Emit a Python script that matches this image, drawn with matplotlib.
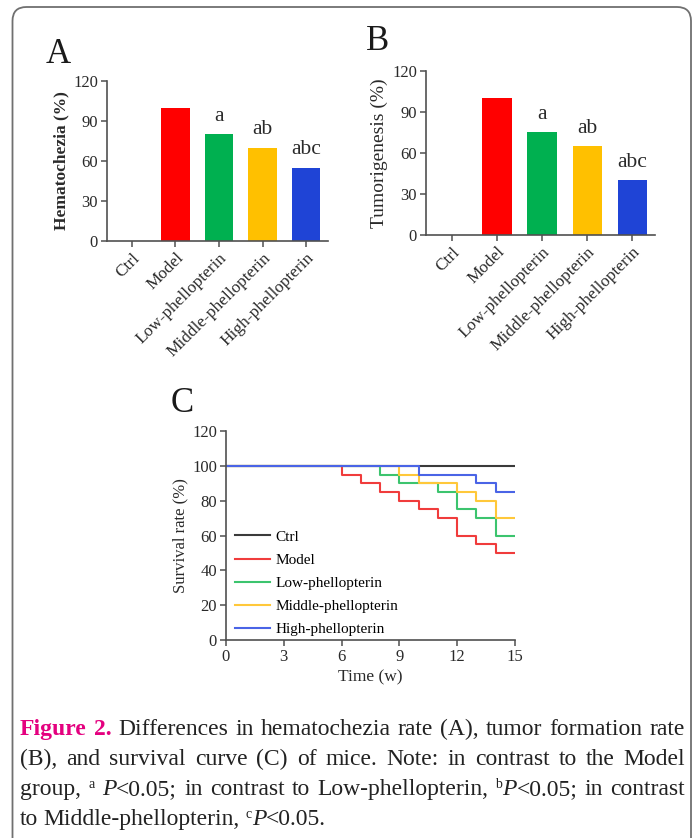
import matplotlib
matplotlib.use('Agg')
import matplotlib.pyplot as plt
from matplotlib.patches import FancyBboxPatch
import numpy as np

plt.rcParams['font.family'] = ['Liberation Serif', 'DejaVu Serif']

W, H = 697, 838

# 数据
groups = ['Ctrl', 'Model', 'Low-phellopterin', 'Middle-phellopterin', 'High-phellopterin']
hema = [0, 100, 80, 70, 55]
tumor = [0, 100, 75, 65, 40]
sig_marks = ['', '', 'a', 'ab', 'abc']
bar_colors = ['#ffffff', '#ff0000', '#00b050', '#ffc000', '#1f44d6']

# 生存曲线 (周, %)
ctrl_t = [0, 15]
ctrl_s = [100, 100]
model_t = [0, 6, 7, 8, 9, 10, 11, 12, 13, 14, 15]
model_s = [100, 95, 90, 85, 80, 75, 70, 60, 55, 50, 50]
low_t = [0, 8, 9, 11, 12, 13, 14, 15]
low_s = [100, 95, 90, 85, 75, 70, 60, 60]
mid_t = [0, 9, 10, 12, 13, 14, 15]
mid_s = [100, 95, 90, 85, 80, 70, 70]
high_t = [0, 10, 13, 14, 15]
high_s = [100, 95, 90, 85, 85]
line_colors = ['#3a3a3a', '#f03c3c', '#3cc46e', '#ffc83a', '#4a64e6']


def px(x):
    return x / W


def py(y):
    return 1 - y / H


def box(l, t, r, b):
    return [px(l), py(b), px(r) - px(l), py(t) - py(b)]


fig = plt.figure(figsize=(W / 100, H / 100), dpi=100)

axc = '#505050'
txc = '#2a2a2a'


def style_axes(ax, lsize):
    for s in ['top', 'right']:
        ax.spines[s].set_visible(False)
    for s in ['left', 'bottom']:
        ax.spines[s].set_color(axc)
        ax.spines[s].set_linewidth(1.2)
    ax.tick_params(colors=axc, width=1.1, length=4, labelcolor=txc, labelsize=lsize, pad=2.5)


def bar_panel(ax, vals, ylabel, bold, ysize):
    x = np.arange(len(groups))
    ax.bar(x, vals, width=0.65, color=bar_colors)
    ax.set_ylim(0, 120)
    ax.set_yticks([0, 30, 60, 90, 120])
    ax.set_xlim(-0.57, 4.5)
    ax.set_xticks(x)
    style_axes(ax, 12)
    ax.set_xticklabels(groups, rotation=45, ha='right', rotation_mode='anchor', fontsize=12.4)
    ax.set_ylabel(ylabel, fontsize=ysize, fontweight='bold' if bold else 'normal', color=txc, labelpad=3)
    for xi, v, m in zip(x, vals, sig_marks):
        if m:
            ax.annotate(m, (xi, v), xytext=(0, 6), textcoords='offset points',
                        ha='center', va='bottom', fontsize=15.5, color=txc)


# A
axA = fig.add_axes(box(107, 81, 328, 241))
bar_panel(axA, hema, 'Hematochezia (%)', True, 12.5)
fig.text(px(46), py(63), 'A', fontsize=25, color='#1a1a1a', va='baseline')

# B
axB = fig.add_axes(box(426, 71, 655, 235))
bar_panel(axB, tumor, 'Tumorigenesis (%)', False, 14)
fig.text(px(366), py(50), 'B', fontsize=25, color='#1a1a1a', va='baseline')

# C
axC = fig.add_axes(box(226, 431, 515, 640))
series = [(ctrl_t, ctrl_s, 'Ctrl'), (model_t, model_s, 'Model'), (low_t, low_s, 'Low-phellopterin'),
          (mid_t, mid_s, 'Middle-phellopterin'), (high_t, high_s, 'High-phellopterin')]
for (t, s, lab), c in zip(series, line_colors):
    axC.step(t, s, where='post', color=c, lw=1.5, label=lab)
axC.set_xlim(0, 15)
axC.set_ylim(0, 120)
axC.set_xticks([0, 3, 6, 9, 12, 15])
axC.set_yticks([0, 20, 40, 60, 80, 100, 120])
style_axes(axC, 12)
axC.set_xlabel('Time (w)', fontsize=12.5, color=txc, labelpad=3)
axC.set_ylabel('Survival rate (%)', fontsize=12, color=txc, labelpad=3)
axC.legend(loc='upper left', bbox_to_anchor=(px(235), py(530)), bbox_transform=fig.transFigure,
           frameon=False, fontsize=11, handlelength=2.3, handletextpad=0.35, labelspacing=0.62,
           borderpad=0, borderaxespad=0)
fig.text(px(171), py(412), 'C', fontsize=25, color='#1a1a1a', va='baseline')

# 外框
frame = FancyBboxPatch((px(12.5), py(870)), px(691) - px(12.5), py(7) - py(870),
                       boxstyle='round,pad=0,rounding_size=0.02', transform=fig.transFigure,
                       fill=False, edgecolor='#707070', lw=1.3, mutation_aspect=W / H)
fig.patches.append(frame)

# 图注, 两端对齐
cap_size = 17
magenta = '#e4007f'
tc = '#222222'
B_ = dict(fontweight='bold', color=magenta)
N_ = dict(color=tc)
I_ = dict(color=tc, style='italic')
S_ = dict(color=tc, size=10, dy=-7)

cap_lines = [
    [[('Figure', B_)], [('2.', B_)], [('Differences', N_)], [('in', N_)], [('hematochezia', N_)], [('rate', N_)],
     [('(A),', N_)], [('tumor', N_)], [('formation', N_)], [('rate', N_)]],
    [[('(B),', N_)], [('and', N_)], [('survival', N_)], [('curve', N_)], [('(C)', N_)], [('of', N_)], [('mice.', N_)],
     [('Note:', N_)], [('in', N_)], [('contrast', N_)], [('to', N_)], [('the', N_)], [('Model', N_)]],
    [[('group,', N_)], [('a', S_)], [('P', I_), ('<0.05;', N_)], [('in', N_)], [('contrast', N_)], [('to', N_)],
     [('Low-phellopterin,', N_)], [('b', S_), ('P', I_), ('<0.05;', N_)], [('in', N_)], [('contrast', N_)]],
    [[('to', N_)], [('Middle-phellopterin,', N_)], [('c', S_), ('P', I_), ('<0.05.', N_)]],
]
baselines = [735, 765, 795, 825]
x_left, x_right = 20, 685

fig.canvas.draw()
rend = fig.canvas.get_renderer()


def make(seg, x, y):
    txt, st = seg
    st = dict(st)
    dy = st.pop('dy', 0)
    size = st.pop('size', cap_size)
    return fig.text(px(x), py(y + dy), txt, fontsize=size, va='baseline', ha='left', **st)


for li, (words, yb) in enumerate(zip(cap_lines, baselines)):
    objs = []
    widths = []
    for w in words:
        segs = []
        ww = 0
        for seg in w:
            t = make(seg, 0, yb)
            sw = t.get_window_extent(rend).width
            segs.append((t, sw))
            ww += sw
        objs.append(segs)
        widths.append(ww)
    if li < len(cap_lines) - 1:
        gap = (x_right - x_left - sum(widths)) / (len(words) - 1)
    else:
        gap = 5.5
    x = x_left
    for segs, ww in zip(objs, widths):
        xx = x
        for t, sw in segs:
            t.set_x(px(xx))
            xx += sw
        x += ww + gap

fig.savefig('out.png', dpi=100)
